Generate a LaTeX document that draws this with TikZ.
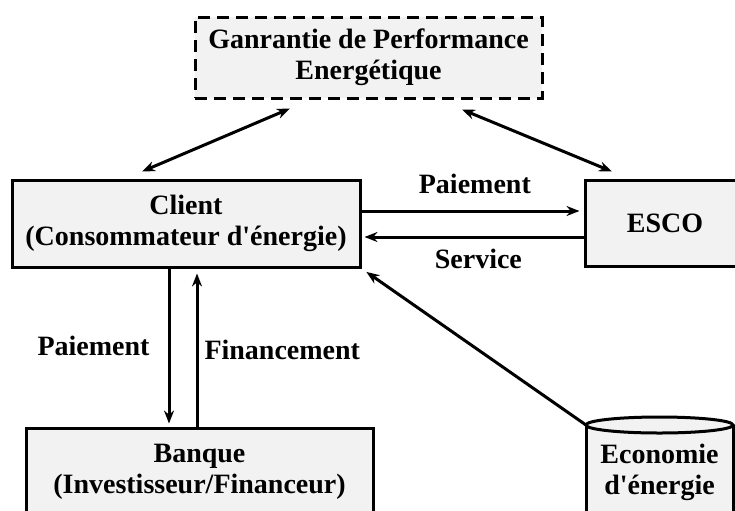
\documentclass[tikz,border=0pt]{standalone}
\usepackage{fontspec}
\setmainfont{Liberation Serif}
\usetikzlibrary{arrows.meta,positioning}
\definecolor{boxgray}{HTML}{F2F2F2}
\tikzset{>={Stealth[length=6.5pt,width=5pt]}}

\begin{document}
\begin{tikzpicture}[x=0.5pt, y=-0.5pt, line width=1.5pt,
    box/.style={draw, fill=boxgray, align=center, inner sep=0pt,
      font=\fontsize{14}{15.5}\selectfont\bfseries},
    lbl/.style={inner sep=0pt, font=\fontsize{14}{15.5}\selectfont\bfseries}]
    \clip (0,0) rectangle (735,510);

    \node[box, dash pattern=on 6pt off 3.5pt, minimum width=173.5pt, minimum height=40.5pt]
      (gpe) at (368.5,57.5) {Ganrantie de Performance\\Energétique};
    \node[box, minimum width=174pt, minimum height=43.5pt]
      (client) at (186,223.5) {Client\\(Consommateur d\textquotesingle énergie)};
    \node[box, minimum width=80pt, minimum height=43pt]
      (esco) at (665,223) {ESCO};
    \node[box, minimum width=173.5pt, minimum height=43.5pt]
      (banque) at (199.5,471.5) {Banque\\(Investisseur/Financeur)};

    % economie (cylindre)
    \draw[fill=boxgray] (586,425) -- (586,530) -- (733,530) -- (733,425);
    \draw[fill=boxgray] (659.5,425) ellipse [x radius=36.75pt, y radius=4pt];
    \node[lbl, align=center] (eco) at (659.5,472) {Economie\\d\textquotesingle énergie};
    \coordinate (ecotop) at (586,425);

    \path[<->] ([shift={(-39.25pt,-4.5pt)}]gpe.south) edge ([shift={(-22pt,3.5pt)}]client.north)
               ([shift={(46.75pt,-5pt)}]gpe.south) edge ([shift={(-26.5pt,3.5pt)}]esco.north);
    \path[->] ([yshift=6.25pt]client.east) edge node[lbl, above=8pt, pos=0.52] {Paiement}
                ([yshift=6pt,xshift=-2pt]esco.west)
              ([yshift=-7pt]esco.west) edge node[lbl, below=5.5pt, pos=0.48] {Service}
                ([yshift=-6.75pt,xshift=1.5pt]client.east)
              ([xshift=-8.5pt]client.south) edge node[lbl, left=9pt] {Paiement}
                ([xshift=-8.5pt,yshift=1.5pt]client.south |- banque.north)
              ([xshift=-1.25pt]banque.north) edge node[lbl, right=3pt] {Financement}
                ([xshift=-1.25pt,yshift=-2.5pt]banque.north |- client.south)
              (ecotop) edge[shorten >=3pt] (client.south east);
  \end{tikzpicture}
\end{document}
